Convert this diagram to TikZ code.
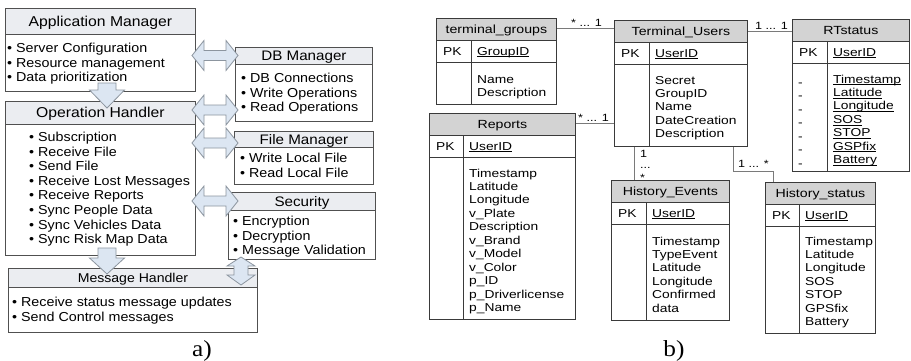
\documentclass[tikz,border=0pt]{standalone}
\usepackage{fontspec}
\setmainfont{Liberation Sans}
\newfontfamily\lfont[FakeStretch=1.1]{Liberation Sans}
\newfontfamily\efont[FakeStretch=1.2]{Liberation Sans}
\newfontfamily\capfont[FakeStretch=1.1]{Liberation Serif}
\usetikzlibrary{calc}
\definecolor{lgray}{HTML}{505050}
\definecolor{hfill}{HTML}{EBEDF1}
\definecolor{afill}{HTML}{DCE6F2}
\definecolor{aline}{HTML}{8C959F}
\definecolor{tline}{HTML}{3A3A3A}
\definecolor{thfill}{HTML}{D3D3D3}
\definecolor{cline}{HTML}{7A7A7A}
\tikzset{
  lbox/.style={draw=lgray, line width=0.9pt, fill=white, inner sep=0pt, anchor=north west},
  lhead/.style={draw=lgray, line width=0.9pt, fill=hfill, inner sep=0pt, anchor=north west, text depth=0pt},
  btext/.style={inner sep=0pt, font=\lfont\fontsize{13}{15}\selectfont, anchor=base west},
  barrow/.style={draw=aline, line width=0.8pt, fill=afill, line join=miter},
  tbody/.style={draw=tline, line width=0.8pt, fill=white, inner sep=0pt, anchor=north west},
  thead/.style={draw=tline, line width=0.8pt, fill=thfill, inner sep=0pt, anchor=north west,
     font=\efont\fontsize{11.8}{13}\selectfont, text height=8.4pt, text depth=0pt},
  tsep/.style={draw=tline, line width=0.8pt},
  etext/.style={inner sep=0pt, font=\efont\fontsize{11.5}{13}\selectfont, anchor=base west},
  elabel/.style={inner sep=0pt, font=\efont\fontsize{10.5}{12}\selectfont, anchor=base west},
  conn/.style={draw=cline, line width=0.8pt},
  caption/.style={inner sep=0pt, font=\capfont\fontsize{23}{26}\selectfont, anchor=base}
}
% horizontal double block arrow centred at (#1,#2)
\newcommand\hdarrow[2]{%
  \draw[barrow] ({#1-23},{#2}) -- ({#1-11},{#2-15}) -- ({#1-11},{#2-5}) -- ({#1+11},{#2-5})
    -- ({#1+11},{#2-15}) -- ({#1+23},{#2}) -- ({#1+11},{#2+15}) -- ({#1+11},{#2+5})
    -- ({#1-11},{#2+5}) -- ({#1-11},{#2+15}) -- cycle;}
% downward block arrow: x centre, shaft top, head base, tip
\newcommand\downarrowblk[4]{%
  \draw[barrow] ({#1-9},{#2}) -- ({#1+9},{#2}) -- ({#1+9},{#3}) -- ({#1+17.5},{#3})
    -- ({#1},{#4}) -- ({#1-17.5},{#3}) -- ({#1-9},{#3}) -- cycle;}
% bullet list: name, x, first baseline, items
\newcommand\blist[4]{%
  \foreach \t [count=\i] in {#4}
    \node[btext] (#1\i) at ({#2},{#3+14.6*(\i-1)}) {• \t};}
% ER table: name, x1, y1, x2, y2, divider x, title, key
\newcommand\ertable[8]{%
  \node[tbody, minimum width={(#4-#2)*1pt}, minimum height={(#5-#3)*1pt}] (#1) at (#2,#3) {};
  \node[thead, minimum width={(#4-#2)*1pt}, minimum height=22pt] (#1h) at (#2,#3) {#7};
  \draw[tsep] (#2,{#3+44}) -- (#4,{#3+44});
  \draw[tsep] (#6,{#3+22}) -- (#6,#5);
  \node[etext] (#1pk) at ({#2+7},{#3+37}) {PK};
  \node[etext] (#1key) at ({#6+6},{#3+37}) {\underline{\smash{#8}}};}
% ER rows: name, x, first baseline, items
\newcommand\erows[4]{%
  \foreach \t [count=\i] in {#4}
    \node[etext] (#1r\i) at ({#2},{#3+13.45*(\i-1)}) {\t};}
\begin{document}
\begin{tikzpicture}[x=1pt,y=-1pt]
\useasboundingbox (0,0) rectangle (911,360);
\fill[white] (0,0) rectangle (911,360);

% ---------------- a) ----------------
% Application Manager
\node[lbox, minimum width=190pt, minimum height=83pt] (am) at (5,8) {};
\node[lhead, minimum width=190pt, minimum height=26pt, text height=10pt,
      font=\lfont\fontsize{14.3}{16}\selectfont] (amh) at (5,8) {Application Manager};
\blist{amb}{7}{52.5}{Server Configuration,Resource management,Data prioritization}

% Operation Handler
\node[lbox, minimum width=190pt, minimum height=154pt] (oh) at (5,101) {};
\node[lhead, minimum width=190pt, minimum height=23pt, text height=10pt,
      font=\lfont\fontsize{14.3}{16}\selectfont] (ohh) at (5,101) {Operation Handler};
\blist{ohb}{29}{141.5}{Subscription,Receive File,Send File,Receive Lost Messages,Receive Reports,Sync People Data,Sync Vehicles Data,Sync Risk Map Data}

% Message Handler
\node[lbox, minimum width=249pt, minimum height=64pt] (mh) at (8,268) {};
\node[lhead, minimum width=249pt, minimum height=19pt, text height=9pt,
      font=\lfont\fontsize{12.8}{15}\selectfont] (mhh) at (8,268) {Message Handler};
\blist{mhb}{12}{306.5}{Receive status message updates,Send Control messages}

% DB Manager
\node[lbox, minimum width=137pt, minimum height=74pt] (db) at (235,47) {};
\node[lhead, minimum width=137pt, minimum height=17pt, text height=9.6pt,
      font=\lfont\fontsize{13.8}{16}\selectfont] (dbh) at (235,47) {DB Manager};
\blist{dbb}{241}{82.5}{DB Connections,Write Operations,Read Operations}

% File Manager
\node[lbox, minimum width=139pt, minimum height=53pt] (fm) at (234,131) {};
\node[lhead, minimum width=139pt, minimum height=16pt, text height=9.6pt,
      font=\lfont\fontsize{13.8}{16}\selectfont] (fmh) at (234,131) {File Manager};
\blist{fmb}{240}{162.5}{Write Local File,Read Local File}

% Security
\node[lbox, minimum width=147pt, minimum height=67pt] (se) at (228,192) {};
\node[lhead, minimum width=147pt, minimum height=18pt, text height=9.6pt,
      font=\lfont\fontsize{13.8}{16}\selectfont] (seh) at (228,192) {Security};
\blist{seb}{233}{225.5}{Encryption,Decryption,Message Validation}

% block arrows
\hdarrow{215}{55.5}
\hdarrow{215}{110}
\hdarrow{215}{143}
\hdarrow{215}{201}
\downarrowblk{107}{83}{90}{108}
\downarrowblk{107}{248}{258}{274}
\draw[barrow] (241,257) -- (255,266) -- (248,266) -- (248,275) -- (255,275) -- (241,285)
   -- (227,275) -- (234,275) -- (234,266) -- (227,266) -- cycle;

\node[caption] (capa) at (202,356) {a)};

% ---------------- b) ----------------
\ertable{tg}{436}{18}{556}{104}{471}{terminal\_groups}{GroupID}
\erows{tg}{477}{83}{Name,Description}

\ertable{tu}{614}{20}{747}{146}{649}{Terminal\_Users}{UserID}
\erows{tu}{655}{84}{Secret,GroupID,Name,DateCreation,Description}

\ertable{rt}{792}{19}{909}{171}{827}{RTstatus}{UserID}
\foreach \t [count=\i] in {Timestamp,Latitude,Longitude,SOS,STOP,GSPfix,Battery}{
  \node[etext] (rtr\i) at (833,{83+13.45*(\i-1)}) {\underline{\smash{\t}}};
  \node[etext] (rtd\i) at (798,{86.5+13.45*(\i-1)}) {-};
}

\ertable{rp}{429}{113}{575}{319}{463}{Reports}{UserID}
\erows{rp}{469}{177}{Timestamp,Latitude,Longitude,v\_Plate,Description,v\_Brand,v\_Model,v\_Color,p\_ID,p\_Driverlicense,p\_Name}

\ertable{he}{611}{180}{729}{320}{646}{History\_Events}{UserID}
\erows{he}{652}{245}{Timestamp,TypeEvent,Latitude,Longitude,Confirmed,data}

\ertable{hs}{765}{182}{875}{333}{799}{History\_status}{UserID}
\erows{hs}{805}{245}{Timestamp,Latitude,Longitude,SOS,STOP,GPSfix,Battery}

% connectors
\draw[conn] (tgh.east |- 0,28) -- (tuh.west |- 0,28);
\node[elabel] (l1) at (571,26) {* ... 1};
\draw[conn] (tuh.east |- 0,31.5) -- (rth.west |- 0,31.5);
\node[elabel] (l2) at (755,29.5) {1 ... 1};
\draw[conn] (rph.east |- 0,123) -- (tu.west |- 0,123);
\node[elabel] (l3) at (578,121.5) {* ... 1};
\draw[conn] (tu.south -| 634,0) -- (heh.north -| 634,0);
\node[elabel] (l4a) at (640,157) {1};
\node[elabel] (l4b) at (640,168) {...};
\node[elabel] (l4c) at (640,181.5) {*};
\draw[conn] (tu.south -| 733,0) |- (773,171) -- (hsh.north -| 773,0);
\node[elabel] (l5) at (738,167.5) {1 ... *};

\node[caption] (capb) at (674,356) {b)};
\end{tikzpicture}
\end{document}
